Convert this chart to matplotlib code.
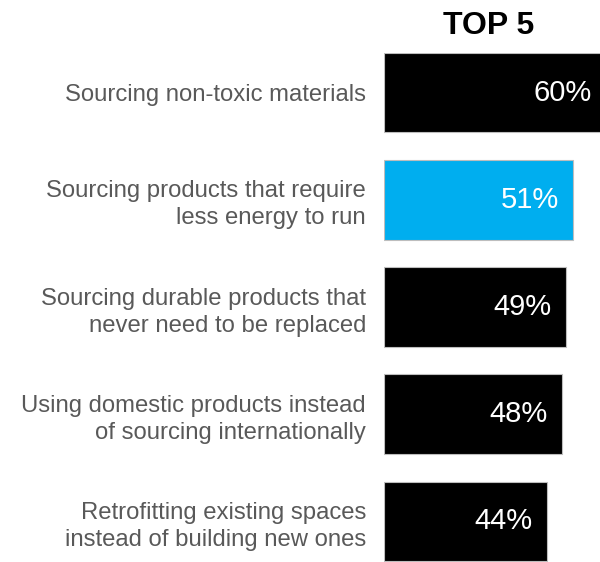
import matplotlib
matplotlib.use('Agg')
import matplotlib.pyplot as pyplot

plt_font = ['Liberation Sans', 'DejaVu Sans']
pyplot.rcParams['font.family'] = plt_font

labels = [
    'Sourcing non-toxic materials',
    'Sourcing products that require\nless energy to run',
    'Sourcing durable products that\nnever need to be replaced',
    'Using domestic products instead\nof sourcing internationally',
    'Retrofitting existing spaces\ninstead of building new ones',
]
values = [60, 51, 49, 48, 44]
colors = ['#000000', '#00aeef', '#000000', '#000000', '#000000']

fig = pyplot.figure(figsize=(6, 5.62), dpi=100)
ax = fig.add_axes([384 / 600, 0, 216 / 600, 509 / 562])

ypos = range(len(values))
bars = ax.barh(ypos, values, height=0.742, color=colors,
               edgecolor='#bdbdbd', linewidth=0.8)

ax.set_xlim(0, 58.2)
ax.set_ylim(4.38, -0.371)
ax.set_yticks(list(ypos))
ax.set_yticklabels(labels, fontsize=17.2, color='#595959', linespacing=1.3)
ax.tick_params(axis='y', length=0, pad=13)
ax.tick_params(axis='x', bottom=False, labelbottom=False)
for spine in ax.spines.values():
    spine.set_visible(False)

# value labels inside the bar ends
for rect, v in zip(bars, values):
    ax.annotate('%d%%' % v, xy=(v, rect.get_y() + rect.get_height() / 2),
                xytext=(-10.5, 0), textcoords='offset points',
                ha='right', va='center', color='white', fontsize=21,
                annotation_clip=False)

fig.text(489 / 600, 1 - 26 / 562, 'TOP 5', ha='center', va='center',
         fontsize=23, fontweight='bold', color='#000000')

fig.savefig('out.png', dpi=100)
